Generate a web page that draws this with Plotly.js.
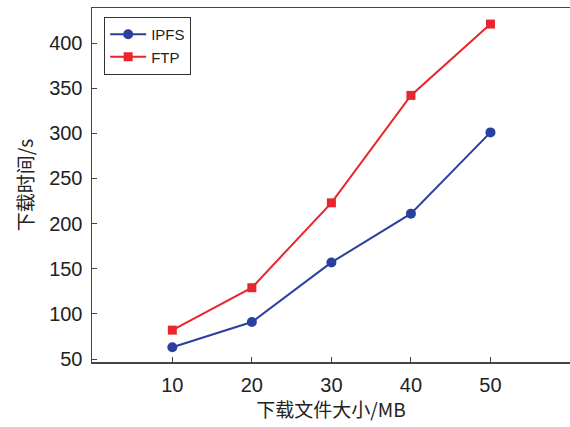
<!DOCTYPE html>
<html><head><meta charset="utf-8">
<script src="https://cdn.plot.ly/plotly-3.0.1.min.js"></script>
<style>body{margin:0}#c{width:570px;height:427px}</style>
</head><body><div id="c"></div>
<script>
var sizes = [10, 20, 30, 40, 50];
var ipfs = [63, 91, 157, 211, 301];
var ftp = [82, 129, 223, 342, 421];
var xTicks = [10, 20, 30, 40, 50];
var yTicks = [50, 100, 150, 200, 250, 300, 350, 400];

var traces = [
  {x: sizes, y: ipfs, name: 'IPFS', mode: 'lines+markers', type: 'scatter',
   line: {color: '#2b3f9e', width: 2}, marker: {symbol: 'circle', size: 10, color: '#2b3f9e'}},
  {x: sizes, y: ftp, name: 'FTP', mode: 'lines+markers', type: 'scatter',
   line: {color: '#e8262b', width: 2}, marker: {symbol: 'square', size: 9, color: '#e8262b'}}
];
var tf = {family: 'Liberation Sans, Arial, sans-serif', size: 20, color: '#222'};
var cjk = {family: 'Noto Sans CJK SC, sans-serif', size: 19, color: '#222'};
var layout = {
  width: 570, height: 427,
  margin: {l: 92, r: 0, t: 8, b: 65},
  paper_bgcolor: '#fff', plot_bgcolor: '#fff',
  showlegend: true,
  legend: {x: 0.025, y: 0.975, xanchor: 'left', yanchor: 'top', bordercolor: '#333', borderwidth: 1.2,
           bgcolor: '#fff', font: {family: 'Liberation Sans, Arial, sans-serif', size: 15, color: '#222'},
           tracegroupgap: 0, itemwidth: 36},
  xaxis: {range: [-0.1, 60], tickvals: xTicks, ticktext: xTicks.map(String), ticks: 'inside', ticklen: 5,
          tickcolor: '#444', showline: true, linecolor: '#444', linewidth: 1.5, mirror: true,
          showgrid: false, zeroline: false, tickfont: tf, ticklabelstandoff: 4,
          title: {text: '下载文件大小/MB', font: cjk, standoff: 8}},
  yaxis: {range: [46.7, 438.8], tickvals: yTicks, ticktext: yTicks.map(String), ticks: 'inside', ticklen: 5,
          tickcolor: '#444', showline: true, linecolor: '#444', linewidth: 1.5, mirror: true,
          showgrid: false, zeroline: false, tickfont: tf, ticklabelstandoff: 4,
          title: {text: '下载时间/s', font: cjk, standoff: 10}}
};
Plotly.newPlot('c', traces, layout, {displayModeBar: false, staticPlot: true});
</script></body></html>
